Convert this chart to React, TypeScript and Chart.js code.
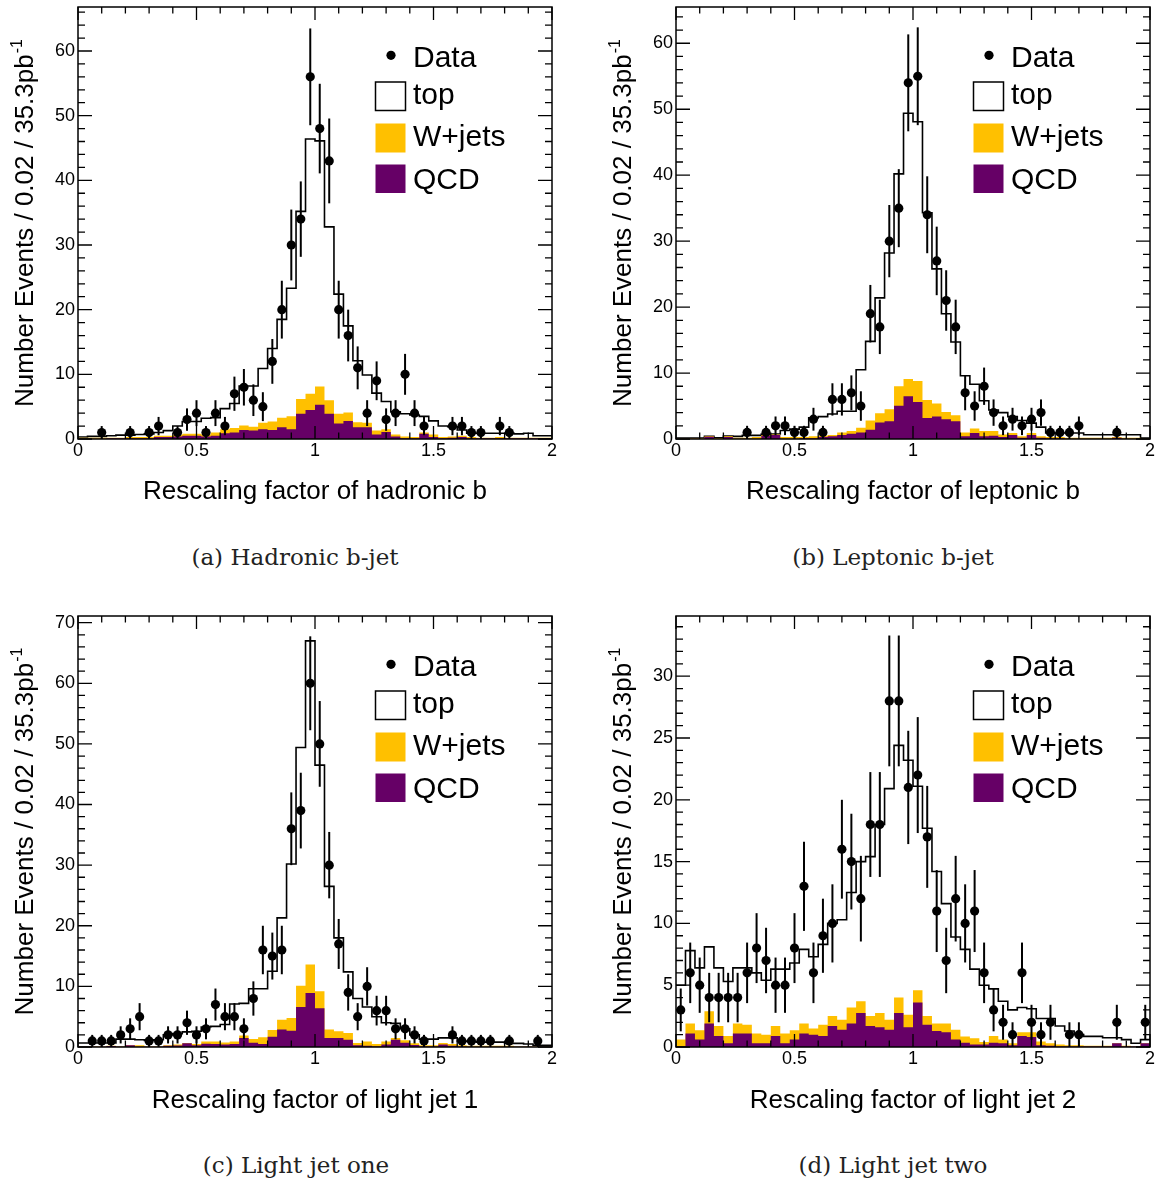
import React, { useEffect, useRef } from "react";
import { Chart, registerables } from "chart.js";

Chart.register(...registerables);

// ---------- binning / axes ----------
const N_BINS = 50;
const BIN_WIDTH = 0.04;
const X_MIN = 0;
const X_MAX = 2;
const xTickValues = [0, 0.5, 1, 1.5, 2];
const xTickLabels = ["0", "0.5", "1", "1.5", "2"];
const legendLabels = ["Data", "top", "W+jets", "QCD"];
const yTitleMain = "Number Events / 0.02 / 35.3pb";
const yTitleSup = "-1";

// ---------- (a) hadronic b ----------
const hadBData = [0,0,1,0,0,1,0,1,2,0, 1,3,4,1,4,2,7,8,6,5, 12,20,30,34,56,48,43,20,16,11, 4,9,3,4,10,4,2,0,0,2, 2,1,1,0,2,1,0,0,0,0];
const hadBQcd = [0.05,0.05,0.05,0.1,0.1,0.1,0.1,0.1,0.3,0.3, 0.4,0.5,0.5,0.4,0.5,0.9,1.0,1.4,1.3,1.5, 1.4,1.8,1.5,3.9,4.5,5.3,3.9,2.4,2.8,1.8, 1.8,0.7,1.1,0.4,0.1,0.1,0.8,0.3,0.1,0.2, 0.3,0.1,0.1,0.1,0.1,0.1,0.1,0.1,0.1,0.1];
const hadBWjets = [0.15,0.15,0.15,0.1,0.1,0.2,0.2,0.2,0.2,0.2, 0.2,0.3,0.3,0.3,0.5,0.6,0.7,0.7,0.6,1.0, 1.3,1.5,2.0,2.3,2.5,2.8,2.1,1.5,1.3,0.8, 0.7,0.6,0.4,0.3,0.3,0.2,0.2,0.4,0.2,0.2, 0.2,0.2,0.1,0.1,0.2,0.1,0.1,0.1,0.1,0.1];
const hadBTop = [0.1,0.2,0.2,0.3,0.4,0.3,0.4,0.5,0.5,0.8, 1.4,1.9,1.9,2.5,2.3,3.2,3.8,6.1,6.3,8.4, 11.3,15.2,19.8,29.0,39.4,38.0,26.8,18.5,13.4,9.5, 7.4,5.8,4.3,3.5,3.5,3.4,2.5,2.1,1.7,1.5, 0.9,0.6,0.7,0.7,0.6,0.7,0.6,0.7,0.3,0.3];

// ---------- (b) leptonic b ----------
const lepBData = [0,0,0,0,0,0,0,1,0,1, 2,2,1,1,3,1,6,6,7,5, 19,17,30,35,54,55,34,27,21,17, 7,5,8,4,2,3,2,3,4,1, 1,1,2,0,0,0,1,0,0,0];
const lepBQcd = [0.05,0.05,0.05,0.35,0.05,0.3,0.05,0.05,0.05,0.5, 0.6,0.05,0.05,0.1,0.1,0.3,0.4,0.6,0.8,1.0, 1.4,2.5,2.7,5.05,6.5,5.6,3.2,3.4,3.0,2.7, 0.4,0.9,0.4,0.5,0.3,0.6,0.2,0.6,0.2,0.1, 0.1,0.05,0.05,0.05,0.05,0.05,0.2,0.05,0.05,0.05];
const lepBWjets = [0.05,0.05,0.05,0.05,0.1,0.1,0.15,0.15,0.25,0.1, 0.1,0.25,0.25,0.2,0.3,0.2,0.2,0.4,0.4,0.7, 1.4,1.4,1.8,2.95,2.6,3.2,2.7,2.0,1.1,0.9, 0.6,0.7,0.8,0.7,0.4,0.3,0.2,0.3,0.2,0.2, 0.2,0.15,0.15,0.15,0.15,0.15,0.1,0.15,0.15,0.05];
const lepBTop = [0.05,0.05,0.05,0.0,0.05,0.05,0.2,0.35,0.25,0.15, 0.05,1.0,1.2,1.5,2.8,2.9,3.2,3.2,3.0,8.8, 12.0,17.5,23.7,32.2,40.3,39.3,28.4,20.4,14.9,11.1, 8.6,6.7,4.6,3.2,3.3,2.5,2.4,1.5,1.4,0.6, 0.6,0.7,0.7,0.45,0.45,0.45,0.35,0.45,0.45,0.05];

// ---------- (c) light jet 1 ----------
const lj1Data = [0,1,1,1,2,3,5,1,1,2, 2,4,2,3,7,5,5,3,8,16, 15,16,36,39,60,50,30,17,9,5, 10,6,6,3,3,2,1,0,0,2, 1,1,1,1,0,1,0,0,1,0];
const lj1Qcd = [0.05,0.05,0.05,0.15,0.05,0.3,0.05,0.05,0.05,0.2, 0.25,0.6,0.3,0.55,0.5,0.4,0.5,1.5,0.7,0.5, 1.7,2.9,2.7,6.6,8.9,6.4,1.5,1.5,1.2,0.3, 0.2,0.1,0.4,1.2,0.7,0.35,0.1,0.1,0.4,0.2, 0.1,0.05,0.05,0.05,0.05,0.05,0.05,0.05,0.05,0.05];
const lj1Wjets = [0.05,0.05,0.05,0.05,0.05,0.0,0.25,0.05,0.05,0.1, 0.15,0.05,0.2,0.35,0.4,0.35,0.4,0.4,0.6,1.1, 1.1,1.6,2.1,3.5,4.7,2.8,1.4,1.1,1.1,0.35, 0.7,0.4,0.5,0.3,0.4,0.25,0.2,0.2,0.25,0.3, 0.2,0.15,0.15,0.15,0.15,0.15,0.05,0.05,0.05,0.05];
const lj1Top = [0.55,0.55,0.55,0.45,1.2,1.0,0.9,1.0,1.1,1.7, 1.8,1.85,2.1,2.4,2.5,2.95,6.2,5.3,8.3,8.0, 9.7,16.8,25.4,39.3,53.4,37.3,23.6,15.4,10.1,7.35, 5.7,4.5,3.1,2.4,1.9,1.4,1.0,1.0,0.85,1.0, 0.7,0.7,0.6,0.6,0.6,0.4,0.5,0.4,0.2,0.2];

// ---------- (d) light jet 2 ----------
const lj2Data = [3,6,5,4,4,4,4,6,8,7, 5,5,8,13,6,9,10,16,15,12, 18,18,28,28,21,22,17,11,7,12, 10,11,6,3,2,1,6,2,1,2, 0,1,1,0,0,0,2,0,0,2];
const lj2Qcd = [0.05,1.1,0.6,1.9,0.9,0.3,1.1,1.1,0.3,0.3, 0.9,0.3,0.6,1.1,1.0,0.9,1.7,1.4,1.9,2.75, 1.7,1.6,1.4,2.75,1.6,3.6,1.8,1.3,1.2,0.6, 0.35,0.2,0.2,0.35,0.3,0.15,0.9,0.8,0.15,0.1, 0.05,0.05,0.05,0.05,0.05,0.05,0.3,0.05,0.05,0.3];
const lj2Wjets = [0.55,0.8,0.75,1.0,0.8,0.6,0.8,0.7,0.8,0.7, 0.8,0.8,0.75,0.8,0.5,0.9,0.8,0.8,1.3,0.95, 0.8,1.15,0.8,1.25,1.0,1.0,0.7,0.6,0.7,0.8, 0.5,0.5,0.2,0.55,0.3,0.15,0.3,0.4,0.3,0.2, 0.15,0.1,0.1,0.05,0.05,0.05,0.0,0.05,0.0,0.0];
const lj2Top = [4.4,5.9,5.05,5.2,4.7,4.4,4.5,4.6,4.9,4.4, 4.6,5.2,5.45,6.0,5.8,6.5,7.5,8.1,9.3,11.3, 12.9,15.25,18.7,20.4,20.6,16.5,15.2,12.3,9.7,7.5, 7.05,5.6,4.6,3.8,3.1,2.7,2.0,1.9,1.85,2.0, 1.5,1.15,0.85,0.76,0.76,0.65,0.45,0.5,0.25,0.3];

// ---------- styles ----------
const YELLOW = "#ffc000";
const PURPLE = "#660066";
const SANS = "'Liberation Sans', Arial, Helvetica, sans-serif";
const SERIF = "'DejaVu Serif', 'Liberation Serif', serif";

type PanelSpec = {
  xTitle: string;
  caption: string;
  data: number[];
  top: number[];
  wjets: number[];
  qcd: number[];
  yMax: number;
  yMajor: number;
  yMinor: number;
  left: number;
  topPos: number;
  width: number;
  height: number;
  padTop: number;
  padRight: number;
  xAxisH: number;
  capX: number;
  capY: number;
};

const panels: PanelSpec[] = [
  { xTitle: "Rescaling factor of hadronic b", caption: "(a) Hadronic b-jet", data: hadBData, top: hadBTop, wjets: hadBWjets, qcd: hadBQcd, yMax: 66.8, yMajor: 10, yMinor: 2, left: 0, topPos: 0, width: 580, height: 520, padTop: 7, padRight: 28, xAxisH: 81, capX: 295, capY: 557 },
  { xTitle: "Rescaling factor of leptonic b", caption: "(b) Leptonic b-jet", data: lepBData, top: lepBTop, wjets: lepBWjets, qcd: lepBQcd, yMax: 65.5, yMajor: 10, yMinor: 2, left: 598, topPos: 0, width: 565, height: 520, padTop: 7, padRight: 13, xAxisH: 81, capX: 893, capY: 557 },
  { xTitle: "Rescaling factor of light jet 1", caption: "(c) Light jet one", data: lj1Data, top: lj1Top, wjets: lj1Wjets, qcd: lj1Qcd, yMax: 71.1, yMajor: 10, yMinor: 2, left: 0, topPos: 609, width: 580, height: 520, padTop: 7, padRight: 28, xAxisH: 82, capX: 296, capY: 1165 },
  { xTitle: "Rescaling factor of light jet 2", caption: "(d) Light jet two", data: lj2Data, top: lj2Top, wjets: lj2Wjets, qcd: lj2Qcd, yMax: 34.87, yMajor: 5, yMinor: 1, left: 598, topPos: 609, width: 565, height: 520, padTop: 7, padRight: 13, xAxisH: 82, capX: 893, capY: 1165 },
];

function HistPanel({ p }: { p: PanelSpec }) {
  const ref = useRef<HTMLCanvasElement>(null);
  useEffect(() => {
    const canvas = ref.current;
    if (!canvas) return;
    const edges = Array.from({ length: N_BINS + 1 }, (_, i) => +(X_MIN + i * BIN_WIDTH).toFixed(4));
    const qcdLevel = p.qcd.slice();
    const wLevel = p.qcd.map((v, i) => v + p.wjets[i]);
    const totLevel = wLevel.map((v, i) => v + p.top[i]);
    const stepPts = (lv: number[]) => edges.map((x, i) => ({ x, y: lv[Math.min(i, N_BINS - 1)] }));
    const dataPts = p.data
      .map((n, i) => ({ x: edges[i] + BIN_WIDTH / 2, y: n }))
      .filter((d) => d.y > 0);

    const nY = Math.floor(p.yMax / p.yMinor + 1e-9);
    const yMajorTicks: number[] = [];
    for (let i = 0; i * p.yMajor <= p.yMax; i++) yMajorTicks.push(i * p.yMajor);

    const overlay = {
      id: "overlay",
      afterDatasetsDraw(chart: any) {
        const { ctx, chartArea: ca, scales } = chart;
        const xs = scales.x;
        const ys = scales.y;
        // error bars
        ctx.save();
        ctx.beginPath();
        ctx.rect(ca.left, ca.top, ca.right - ca.left, ca.bottom - ca.top);
        ctx.clip();
        ctx.strokeStyle = "#000";
        ctx.lineWidth = 2;
        p.data.forEach((n, i) => {
          if (n <= 0) return;
          const e = Math.sqrt(n);
          const px = xs.getPixelForValue(edges[i] + BIN_WIDTH / 2);
          ctx.beginPath();
          ctx.moveTo(px, ys.getPixelForValue(n - e));
          ctx.lineTo(px, ys.getPixelForValue(n + e));
          ctx.stroke();
        });
        ctx.restore();

        // ticks
        ctx.save();
        ctx.strokeStyle = "#000";
        ctx.lineWidth = 1.3;
        ctx.beginPath();
        for (let i = 0; i <= 20; i++) {
          const px = xs.getPixelForValue(i * 0.1);
          const len = i % 5 === 0 ? 13 : 6.5;
          ctx.moveTo(px, ca.bottom);
          ctx.lineTo(px, ca.bottom - len);
          ctx.moveTo(px, ca.top);
          ctx.lineTo(px, ca.top + len);
        }
        const ratio = Math.round(p.yMajor / p.yMinor);
        for (let i = 0; i <= nY; i++) {
          const py = ys.getPixelForValue(i * p.yMinor);
          const len = i % ratio === 0 ? 14 : 7;
          ctx.moveTo(ca.left, py);
          ctx.lineTo(ca.left + len, py);
          ctx.moveTo(ca.right, py);
          ctx.lineTo(ca.right - len, py);
        }
        ctx.stroke();
        // frame
        ctx.lineWidth = 1.5;
        ctx.strokeRect(ca.left, ca.top, ca.right - ca.left, ca.bottom - ca.top);
        ctx.restore();
      },
      afterDraw(chart: any) {
        const { ctx, chartArea: ca } = chart;
        const L = ca.left;
        const T = ca.top;
        // legend
        ctx.save();
        ctx.fillStyle = "#000";
        ctx.beginPath();
        ctx.arc(L + 313, T + 48.3, 4.6, 0, Math.PI * 2);
        ctx.fill();
        ctx.fillStyle = "#fff";
        ctx.fillRect(L + 297.5, T + 75, 30, 28.5);
        ctx.strokeStyle = "#000";
        ctx.lineWidth = 1.5;
        ctx.strokeRect(L + 297.5, T + 75, 30, 28.5);
        ctx.fillStyle = YELLOW;
        ctx.fillRect(L + 297.5, T + 116.5, 30, 29);
        ctx.fillStyle = PURPLE;
        ctx.fillRect(L + 297.5, T + 157.5, 30, 28.5);
        ctx.fillStyle = "#000";
        ctx.font = `30px ${SANS}`;
        ctx.textAlign = "left";
        ctx.textBaseline = "alphabetic";
        const baselines = [59.5, 96.8, 138.5, 181.5];
        legendLabels.forEach((lab, i) => ctx.fillText(lab, L + 335, T + baselines[i]));
        ctx.restore();

        // y title with superscript
        ctx.save();
        const cy = (ca.top + ca.bottom) / 2;
        ctx.translate(24, cy);
        ctx.rotate(-Math.PI / 2);
        ctx.fillStyle = "#000";
        ctx.textAlign = "left";
        ctx.textBaseline = "alphabetic";
        ctx.font = `26px ${SANS}`;
        const w1 = ctx.measureText(yTitleMain).width;
        ctx.font = `16px ${SANS}`;
        const w2 = ctx.measureText(yTitleSup).width;
        const x0 = -(w1 + w2 + 1) / 2;
        ctx.font = `26px ${SANS}`;
        ctx.fillText(yTitleMain, x0, 9.3);
        ctx.font = `16px ${SANS}`;
        ctx.fillText(yTitleSup, x0 + w1 + 1, 9.3 - 11);
        ctx.restore();
      },
    };

    const chart = new Chart(canvas, {
      type: "line",
      data: {
        datasets: [
          {
            label: legendLabels[0],
            data: dataPts,
            showLine: false,
            pointRadius: 4.6,
            pointHoverRadius: 4.6,
            pointBackgroundColor: "#000",
            pointBorderWidth: 0,
            borderColor: "#000",
            backgroundColor: "#000",
          },
          {
            label: legendLabels[3],
            data: stepPts(qcdLevel),
            stepped: true,
            fill: "origin",
            backgroundColor: PURPLE,
            borderColor: "rgba(0,0,0,0)",
            borderWidth: 0,
            pointRadius: 0,
          },
          {
            label: legendLabels[2],
            data: stepPts(wLevel),
            stepped: true,
            fill: "origin",
            backgroundColor: YELLOW,
            borderColor: "rgba(0,0,0,0)",
            borderWidth: 0,
            pointRadius: 0,
          },
          {
            label: legendLabels[1],
            data: stepPts(totLevel),
            stepped: true,
            fill: "origin",
            backgroundColor: "#ffffff",
            borderColor: "#000",
            borderWidth: 1.6,
            pointRadius: 0,
          },
        ],
      } as any,
      options: {
        responsive: false,
        animation: false,
        devicePixelRatio: 1,
        events: [],
        layout: { autoPadding: false, padding: { left: 0, right: p.padRight, top: p.padTop, bottom: 0 } },
        plugins: { legend: { display: false }, tooltip: { enabled: false }, title: { display: false } },
        scales: {
          x: {
            type: "linear",
            min: X_MIN,
            max: X_MAX,
            position: "bottom",
            grid: { display: false, drawTicks: false },
            border: { display: false },
            afterBuildTicks: (s: any) => {
              s.ticks = xTickValues.map((v) => ({ value: v }));
            },
            ticks: {
              callback: (_v: any, i: number) => xTickLabels[i],
              font: { family: SANS, size: 18 },
              color: "#000",
              padding: 1,
              maxRotation: 0,
              autoSkip: false,
            },
            title: {
              display: true,
              text: p.xTitle,
              font: { family: SANS, size: 26 },
              color: "#000",
              padding: { top: 0, bottom: 13 },
            },
            afterFit: (s: any) => {
              s.height = p.xAxisH;
              s.paddingLeft = 0;
              s.paddingRight = 0;
              s.paddingTop = 0;
              s.paddingBottom = 0;
            },
          },
          y: {
            type: "linear",
            min: 0,
            max: p.yMax,
            grid: { display: false, drawTicks: false },
            border: { display: false },
            afterBuildTicks: (s: any) => {
              s.ticks = yMajorTicks.map((v) => ({ value: v }));
            },
            ticks: {
              callback: (v: any) => String(v),
              font: { family: SANS, size: 18 },
              color: "#000",
              padding: 3,
              autoSkip: false,
            },
            afterFit: (s: any) => {
              s.width = 78;
              s.paddingLeft = 0;
              s.paddingRight = 0;
              s.paddingTop = 0;
              s.paddingBottom = 0;
            },
          },
        },
      } as any,
      plugins: [overlay],
    });
    return () => chart.destroy();
  }, [p]);

  return (
    <>
      <canvas
        ref={ref}
        width={p.width}
        height={p.height}
        style={{ position: "absolute", left: p.left, top: p.topPos, width: p.width, height: p.height, display: "block" }}
      />
      <div
        style={{
          position: "absolute",
          left: p.capX - 200,
          top: p.capY - 14,
          width: 400,
          height: 28,
          lineHeight: "28px",
          textAlign: "center",
          fontFamily: SERIF,
          fontSize: 23,
          color: "#222",
        }}
      >
        {p.caption}
      </div>
    </>
  );
}

export default function App() {
  return (
    <div style={{ position: "absolute", left: 0, top: 0, width: 1163, height: 1184, background: "#fff", overflow: "hidden" }}>
      {panels.map((p, i) => (
        <HistPanel key={i} p={p} />
      ))}
    </div>
  );
}
